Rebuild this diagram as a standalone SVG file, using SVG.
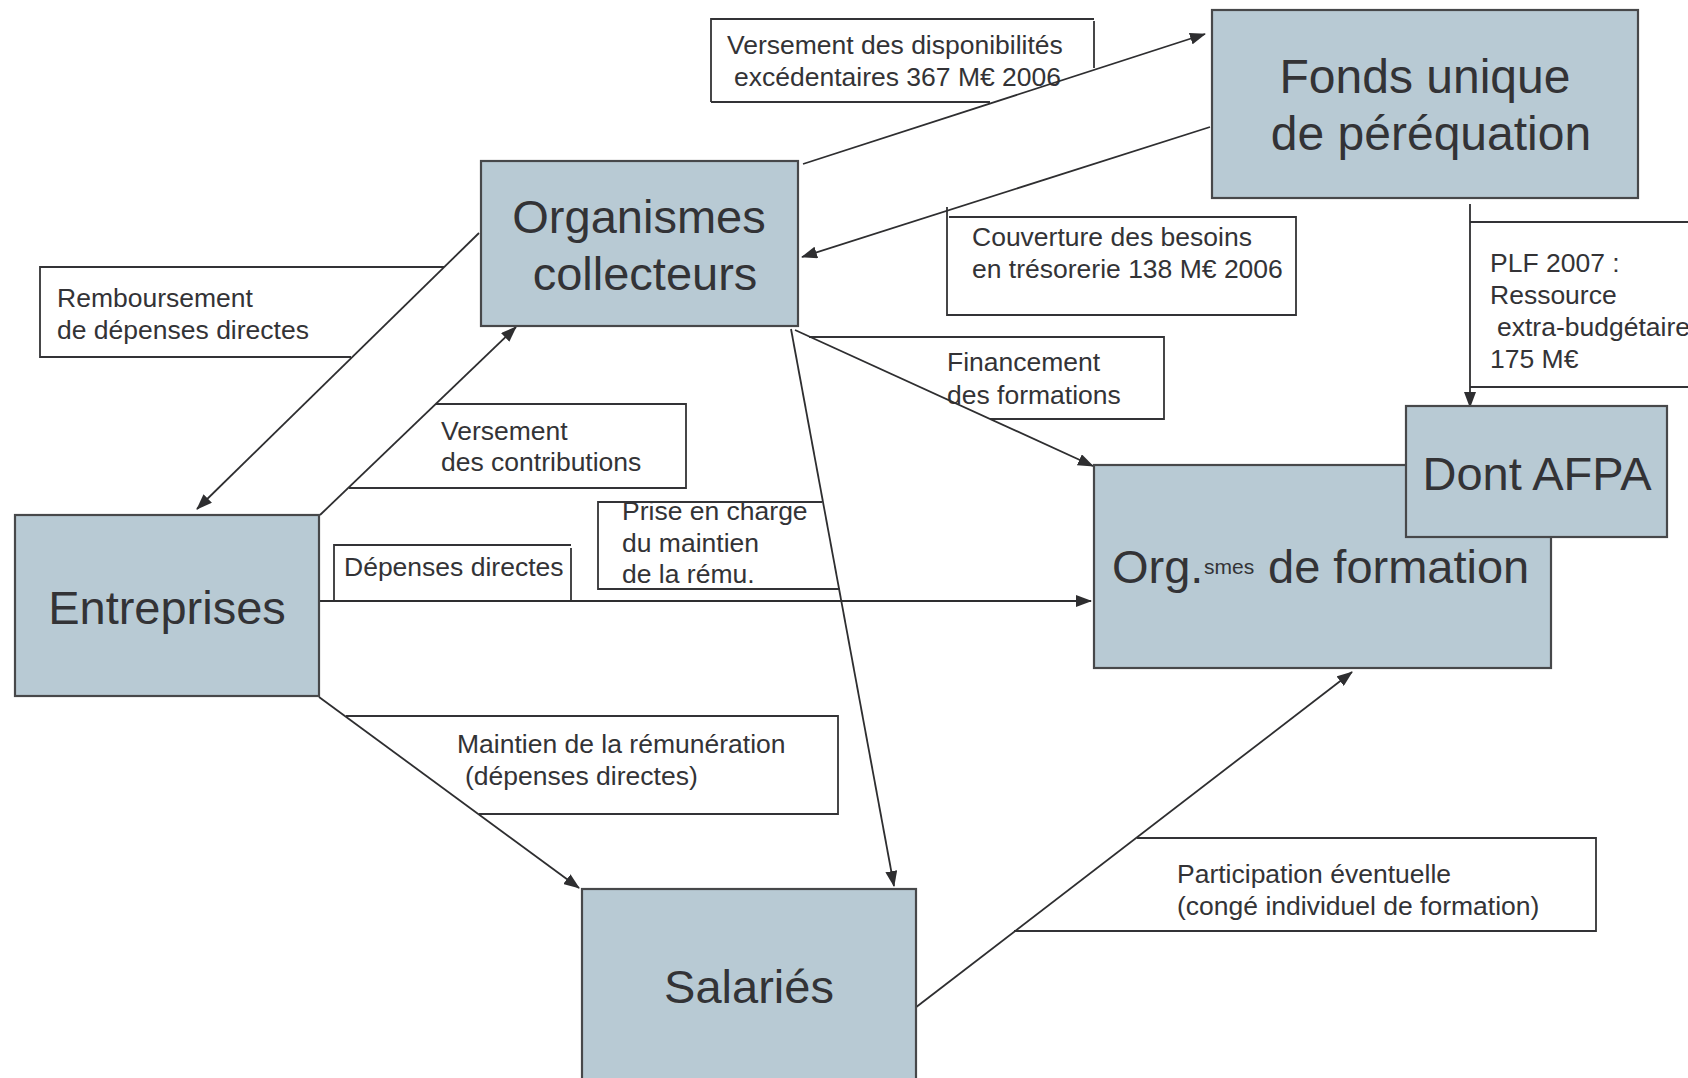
<svg xmlns="http://www.w3.org/2000/svg" width="1688" height="1078" viewBox="0 0 1688 1078">
<defs>
<marker id="ah" markerWidth="16" markerHeight="12" refX="15" refY="6" orient="auto" markerUnits="userSpaceOnUse">
<path d="M0,0 L16,6 L0,12 Z" fill="#2e2e30"/>
</marker>
<style>
.node{fill:#b8cad4;stroke:#47484a;stroke-width:2.2}
.big{font-family:"Liberation Sans",Arial,sans-serif;font-size:47px;fill:#333336}
.sup{font-family:"Liberation Sans",Arial,sans-serif;font-size:21px;fill:#333336}
.lbl{font-family:"Liberation Sans",Arial,sans-serif;font-size:26.5px;fill:#333336}
.lb{fill:none;stroke:#333336;stroke-width:1.8}
.c{fill:none;stroke:#2e2e30;stroke-width:1.8}
.ca{fill:none;stroke:#2e2e30;stroke-width:1.8;marker-end:url(#ah)}
</style>
</defs>
<rect width="1688" height="1078" fill="#ffffff"/>

<g id="labels">
<g id="lbl-versement-dispo">
<path class="lb" d="M711,102 L711,19 L1094,19 M1094,21 L1094,68 M711,102 L990,102"/>
<text class="lbl" x="727" y="54">Versement des disponibilités</text>
<text class="lbl" x="734" y="86">excédentaires 367 M€ 2006</text>
</g>
<g id="lbl-couverture">
<path class="lb" d="M947,207 L947,315 L1296,315 L1296,217 L949,217"/>
<text class="lbl" x="972" y="246">Couverture des besoins</text>
<text class="lbl" x="972" y="278">en trésorerie 138 M€ 2006</text>
</g>
<g id="lbl-plf">
<path class="lb" d="M1470,222 L1688,222 M1470,387 L1688,387"/>
<text class="lbl" x="1490" y="272">PLF 2007 :</text>
<text class="lbl" x="1490" y="304">Ressource</text>
<text class="lbl" x="1497" y="336">extra-budgétaire</text>
<text class="lbl" x="1490" y="368">175 M€</text>
</g>
<g id="lbl-remboursement">
<path class="lb" d="M444,267 L40,267 L40,357 L351,357"/>
<text class="lbl" x="57" y="307">Remboursement</text>
<text class="lbl" x="57" y="339">de dépenses directes</text>
</g>
<g id="lbl-versement-contrib">
<path class="lb" d="M436,404 L686,404 L686,488 L349,488"/>
<text class="lbl" x="441" y="440">Versement</text>
<text class="lbl" x="441" y="471">des contributions</text>
</g>
<g id="lbl-prise">
<path class="lb" d="M822,502 L598,502 L598,589 L840,589"/>
<text class="lbl" x="622" y="520">Prise en charge</text>
<text class="lbl" x="622" y="552">du maintien</text>
<text class="lbl" x="622" y="583">de la rému.</text>
</g>
<g id="lbl-depenses">
<path class="lb" d="M334,601 L334,545 L571,545 M571,548 L571,601"/>
<text class="lbl" x="344" y="576">Dépenses directes</text>
</g>
<g id="lbl-financement">
<path class="lb" d="M809,337 L1164,337 L1164,419 L990,419"/>
<text class="lbl" x="947" y="371">Financement</text>
<text class="lbl" x="947" y="404">des formations</text>
</g>
<g id="lbl-maintien">
<path class="lb" d="M346,716 L838,716 L838,814 L479,814"/>
<text class="lbl" x="457" y="753">Maintien de la rémunération</text>
<text class="lbl" x="465" y="785">(dépenses directes)</text>
</g>
<g id="lbl-participation">
<path class="lb" d="M1137,838 L1596,838 L1596,931 L1014,931"/>
<text class="lbl" x="1177" y="883">Participation éventuelle</text>
<text class="lbl" x="1177" y="915">(congé individuel de formation)</text>
</g>
</g>

<g id="connectors">
<line class="ca" x1="803" y1="164" x2="1205" y2="34"/>
<line class="ca" x1="1210" y1="127" x2="802" y2="257"/>
<line class="ca" x1="1470" y1="204" x2="1470" y2="407"/>
<line class="ca" x1="479" y1="233" x2="197" y2="509"/>
<line class="ca" x1="320" y1="515" x2="516" y2="327"/>
<line class="ca" x1="319" y1="601" x2="1091" y2="601"/>
<line class="ca" x1="319" y1="697" x2="579" y2="888"/>
<line class="ca" x1="791" y1="329" x2="894" y2="886"/>
<line class="ca" x1="795" y1="330" x2="1093" y2="466"/>
<line class="ca" x1="915" y1="1008" x2="1352" y2="672"/>
</g>

<g id="node-fonds">
<rect class="node" x="1212" y="10" width="426" height="188"/>
<text class="big" x="1425" y="93" text-anchor="middle" style="font-size:48px">Fonds unique</text>
<text class="big" x="1431" y="150" text-anchor="middle" style="font-size:48px">de péréquation</text>
</g>
<g id="node-organismes">
<rect class="node" x="481" y="161" width="317" height="165"/>
<text class="big" x="639" y="233" text-anchor="middle">Organismes</text>
<text class="big" x="645" y="290" text-anchor="middle">collecteurs</text>
</g>
<g id="node-entreprises">
<rect class="node" x="15" y="515" width="304" height="181"/>
<text class="big" x="167" y="624" text-anchor="middle">Entreprises</text>
</g>
<g id="node-salaries">
<rect class="node" x="582" y="889" width="334" height="200"/>
<text class="big" x="749" y="1003" text-anchor="middle">Salariés</text>
</g>
<g id="node-orgformation">
<rect class="node" x="1094" y="465" width="457" height="203"/>
<text class="big" x="1112" y="583">Org.</text>
<text class="sup" x="1204" y="574">smes</text>
<text class="big" x="1268" y="583">de formation</text>
</g>
<g id="node-afpa">
<rect class="node" x="1406" y="406" width="261" height="131"/>
<text class="big" x="1537" y="490" text-anchor="middle">Dont AFPA</text>
</g>
</svg>
